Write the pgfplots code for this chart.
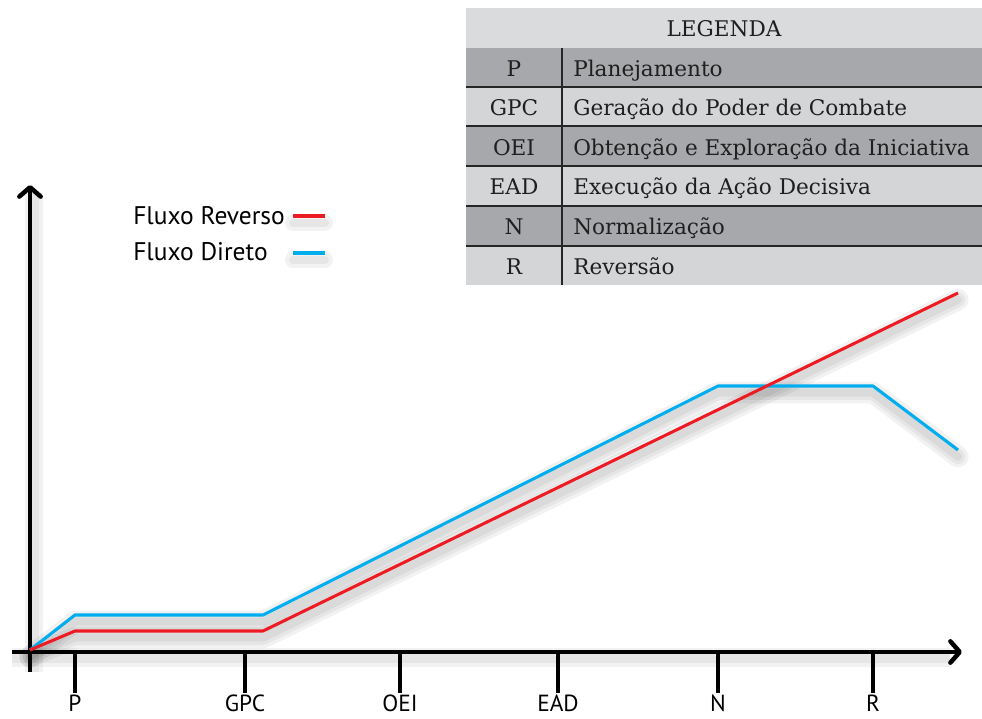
\documentclass[border=0pt]{standalone}
\usepackage{pgfplots}
\pgfplotsset{compat=1.18}
\usepackage{fontspec}
\setmainfont{DejaVu Serif}
\newfontfamily\labelfont{PT Sans}
\usetikzlibrary{arrows.meta}

\definecolor{fluxred}{HTML}{ED1C24}
\definecolor{fluxblue}{HTML}{00AEEF}
\definecolor{rowdark}{HTML}{A7A8AB}
\definecolor{rowlight}{HTML}{D4D5D7}
\definecolor{rowhead}{HTML}{DADBDD}

% pixel-like units: x 0..982, y 0..718 (y up)
\pgfplotstableread{
x y
30 68
75 87
263 87
958 425
}\reverso
\pgfplotstableread{
x y
30 68
75 103
263 103
718 332
873 332
958 268
}\direto

\pgfplotsset{
  shad/.style={black, opacity=0.05, line width=#1, yshift=-5pt, line join=round, line cap=round, forget plot},
}
\tikzset{
  sep/.style={line width=1.6pt, black!85},
  cell/.style={inner sep=0pt, anchor=base, font=\fontsize{16.2}{19}\selectfont, text=black!88},
  celltxt/.style={cell, anchor=base west},
  tk/.style={line width=3pt},
  tklab/.style={anchor=north, inner sep=0pt, font=\labelfont\fontsize{17.5}{20}\selectfont},
  leg/.style={anchor=west, inner sep=0pt, font=\labelfont\fontsize{19.1}{22}\selectfont},
  sh/.style={black, opacity=0.05, line width=#1},
}

\begin{document}
\begin{tikzpicture}
\begin{axis}[
    scale only axis, width=736.5pt, height=538.5pt,
    xmin=0, xmax=982, ymin=0, ymax=718,
    hide axis, clip=false,
  ]
  \coordinate (bl) at (axis cs:0,0);
  \coordinate (tr) at (axis cs:982,718);

  % legend table
  \fill[rowhead] (axis cs:466,670) rectangle (axis cs:982,710);
  \fill[rowdark] (axis cs:466,631) rectangle (axis cs:982,670);
  \fill[rowlight] (axis cs:466,592) rectangle (axis cs:982,631);
  \fill[rowdark] (axis cs:466,552) rectangle (axis cs:982,592);
  \fill[rowlight] (axis cs:466,512) rectangle (axis cs:982,552);
  \fill[rowdark] (axis cs:466,472) rectangle (axis cs:982,512);
  \fill[rowlight] (axis cs:466,433) rectangle (axis cs:982,472);
  \draw[sep] (axis cs:466,631) -- (axis cs:982,631);
  \draw[sep] (axis cs:466,592) -- (axis cs:982,592);
  \draw[sep] (axis cs:466,552) -- (axis cs:982,552);
  \draw[sep] (axis cs:466,512) -- (axis cs:982,512);
  \draw[sep] (axis cs:466,472) -- (axis cs:982,472);
  \draw[line width=1.8pt, black!85] (axis cs:562,670) -- (axis cs:562,433);

  \node[cell] at (axis cs:724,681) {LEGENDA};
  \node[cell] at (axis cs:514,641) {P};
  \node[cell] at (axis cs:514,602) {GPC};
  \node[cell] at (axis cs:514,562) {OEI};
  \node[cell] at (axis cs:514,523) {EAD};
  \node[cell] at (axis cs:514,483) {N};
  \node[cell] at (axis cs:514,443) {R};
  \node[celltxt] at (axis cs:573,641) {Planejamento};
  \node[celltxt] at (axis cs:573,602) {Geração do Poder de Combate};
  \node[celltxt] at (axis cs:573,562) {Obtenção e Exploração da Iniciativa};
  \node[celltxt] at (axis cs:573,523) {Execução da Ação Decisiva};
  \node[celltxt] at (axis cs:573,483) {Normalização};
  \node[celltxt] at (axis cs:573,443) {Reversão};

  % soft shadows
  \draw[sh=14pt, yshift=-4pt] (axis cs:12,66) -- (axis cs:950,66);
  \draw[sh=8pt, yshift=-4pt] (axis cs:12,66) -- (axis cs:950,66);
  \draw[sh=14pt, xshift=3pt] (axis cs:30,46) -- (axis cs:30,525);
  \draw[sh=8pt, xshift=3pt] (axis cs:30,46) -- (axis cs:30,525);
  \draw[sh=12pt, yshift=-5pt, line cap=round] (axis cs:293,502) -- (axis cs:325,502);
  \draw[sh=6pt, yshift=-5pt, line cap=round] (axis cs:293,502) -- (axis cs:325,502);
  \draw[sh=12pt, yshift=-5pt, line cap=round] (axis cs:293,465) -- (axis cs:325,465);
  \draw[sh=6pt, yshift=-5pt, line cap=round] (axis cs:293,465) -- (axis cs:325,465);
  \addplot[shad=16pt] table {\direto};
  \addplot[shad=11pt] table {\direto};
  \addplot[shad=6pt] table {\direto};
  \addplot[shad=16pt] table {\reverso};
  \addplot[shad=11pt] table {\reverso};
  \addplot[shad=6pt] table {\reverso};

  % axes
  \draw[line width=3.4pt, -{Straight Barb[length=7pt, width=16pt, round]}] (axis cs:30,46) -- (axis cs:30,533);
  \draw[line width=3.4pt, -{Straight Barb[length=7pt, width=16pt, round]}] (axis cs:12,66) -- (axis cs:962,66);
  \draw[tk] (axis cs:75,66) -- (axis cs:75,25);
  \draw[tk] (axis cs:245,66) -- (axis cs:245,25);
  \draw[tk] (axis cs:400,66) -- (axis cs:400,25);
  \draw[tk] (axis cs:558,66) -- (axis cs:558,25);
  \draw[tk] (axis cs:718,66) -- (axis cs:718,25);
  \draw[tk] (axis cs:873,66) -- (axis cs:873,25);
  \node[tklab] at (axis cs:75,23) {P};
  \node[tklab] at (axis cs:245,23) {GPC};
  \node[tklab] at (axis cs:400,23) {OEI};
  \node[tklab] at (axis cs:558,23) {EAD};
  \node[tklab] at (axis cs:718,23) {N};
  \node[tklab] at (axis cs:873,23) {R};

  % series
  \addplot[fluxblue, line width=2.3pt, line join=round] table {\direto};
  \addplot[fluxred, line width=2.3pt, line join=round] table {\reverso};

  % legend
  \node[leg] at (axis cs:133,502) {Fluxo Reverso};
  \node[leg] at (axis cs:133,466) {Fluxo Direto};
  \draw[fluxred, line width=2.3pt] (axis cs:293,502) -- (axis cs:325,502);
  \draw[fluxblue, line width=2.3pt] (axis cs:293,465) -- (axis cs:325,465);
\end{axis}
\pgfresetboundingbox
\useasboundingbox (bl) rectangle (tr);
\end{tikzpicture}
\end{document}
